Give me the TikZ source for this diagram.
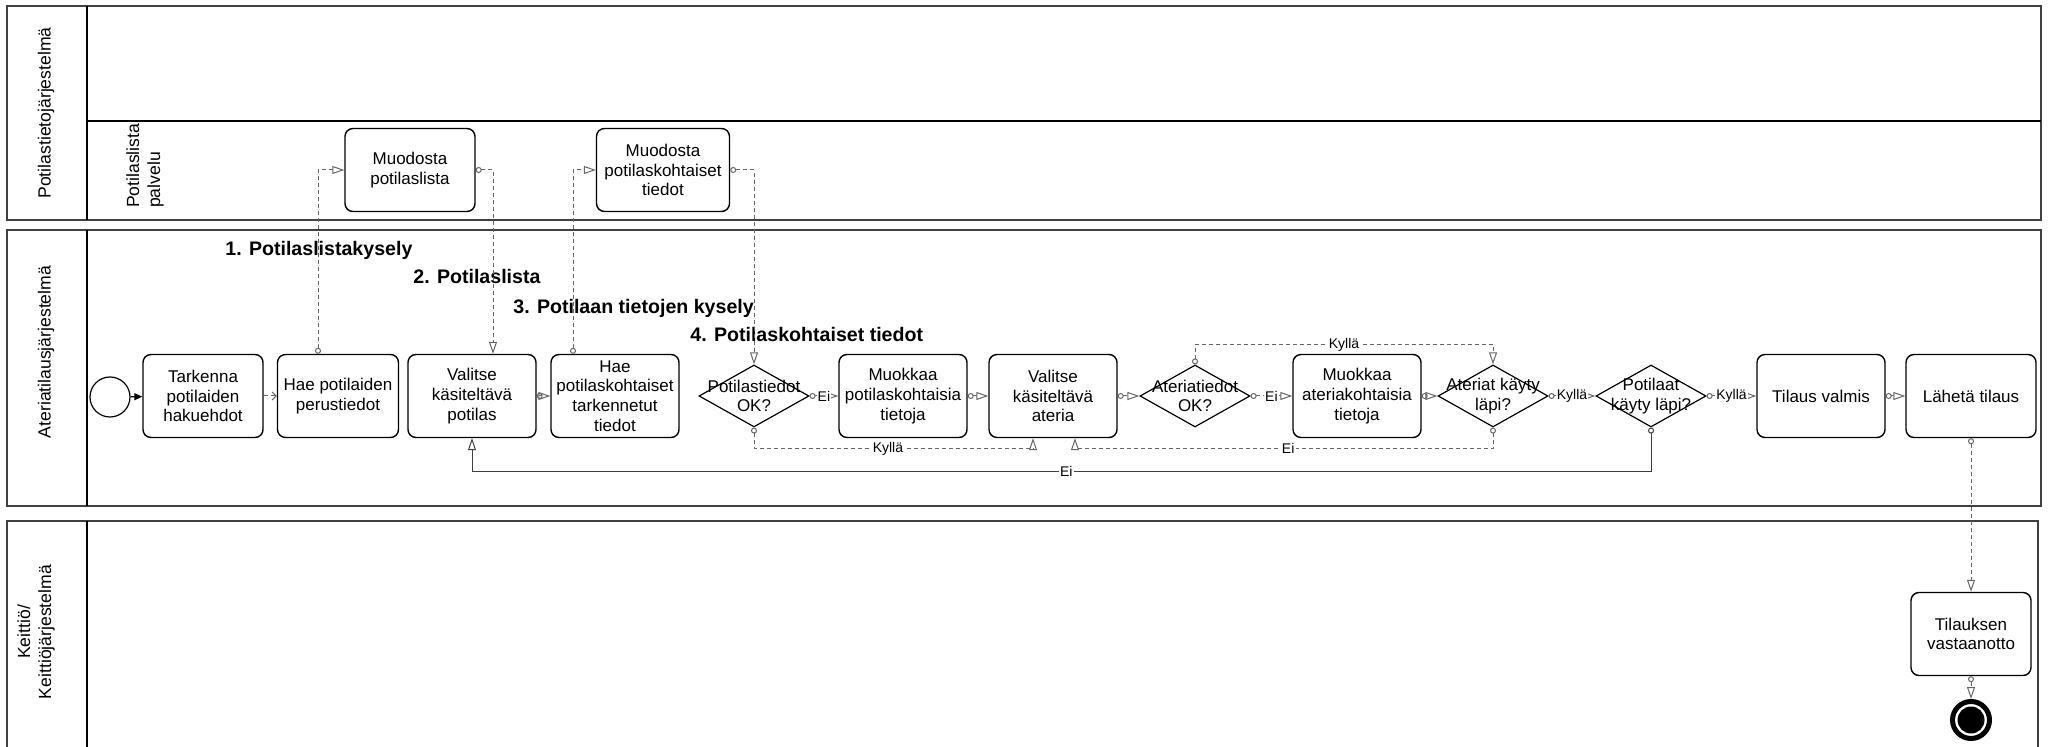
\documentclass[tikz,border=0pt]{standalone}
\usepackage{fontspec}
\setmainfont{Liberation Sans}
\usetikzlibrary{arrows.meta, shapes.geometric}

\begin{document}
\begin{tikzpicture}[x=0.5pt, y=-0.5pt, font=\fontsize{8.5}{9.9}\selectfont]
		\tikzset{
		    pool/.style= {draw=black!75, line width=1pt},
		    head/.style= {rotate=90, align=center, font=\fontsize{8.8}{10.5}\selectfont},
		    task/.style= {rectangle, rounded corners=4pt, draw, line width=0.7pt, minimum width=64pt, minimum height=41.5pt, align=center, inner sep=0.5pt},
		    gate/.style= {diamond, draw, line width=0.6pt, minimum width=55pt, minimum height=31pt, inner sep=0pt},
		    gtext/.style= {align=center, inner sep=0pt},
		    flow/.style= {draw=black!60, line width=0.5pt, dash pattern=on 2pt off 1.5pt, {Circle[open, length=3pt, width=3pt]}-{Triangle[open, length=6pt, width=4pt]}},
		    lab/.style= {fill=white, inner sep=0.6pt, font=\fontsize{7}{8}\selectfont},
		    msglab/.style= {anchor=west, inner sep=0pt, font=\fontsize{9.8}{11}\selectfont\bfseries},
		}
		\clip (0,0) rectangle (2049,747);
		
		% pools and lanes
		\draw[pool] (7,6) rectangle (2041,220);
		\draw[pool] (7,230) rectangle (2041,506);
		\draw[pool] (7,521) rectangle (2038,760);
		\draw[line width=0.6pt] (87,6) -- (87,220) (87,230) -- (87,506) (87,521) -- (87,760);
		\draw[line width=0.6pt] (87,121) -- (2041,121);
		\node[head] (h1) at (46,113) {Potilastietojärjestelmä};
		\node[head] (h2) at (46,352) {Ateriatilausjärjestelmä};
		\node[head] (h3) at (36,632) {Keittiö/\\Keittiöjärjestelmä};
		\node[head, align=left, anchor=west] (h4) at (145,215) {Potilaslista\\palvelu};
		
		\node[task, minimum width=65pt] (p1) at (410,170) {Muodosta\\potilaslista};
		\node[task, minimum width=66.5pt] (p2) at (663,170) {Muodosta\\potilaskohtaiset\\tiedot};
		
		\node[circle, draw, line width=0.6pt, minimum size=20pt, inner sep=0pt] (start) at (110,397) {};
		\node[task, minimum width=60pt] (t1) at (203,396) {Tarkenna\\potilaiden\\hakuehdot};
		\node[task, minimum width=60.5pt] (t2) at (338,396) {Hae potilaiden\\perustiedot};
		\node[task] (t3) at (472,396) {Valitse\\käsiteltävä\\potilas};
		\node[task] (t4) at (615,396) {Hae\\potilaskohtaiset\\tarkennetut\\tiedot};
		\node[gate, label={[gtext]center:{Potilastiedot\\OK?}}] (g1) at (754,396) {};
		\node[task] (t5) at (903,396) {Muokkaa\\potilaskohtaisia\\tietoja};
		\node[task] (t6) at (1053,396) {Valitse\\käsiteltävä\\ateria};
		\node[gate, label={[gtext]center:{Ateriatiedot\\OK?}}] (g2) at (1195,396) {};
		\node[task] (t7) at (1357,396) {Muokkaa\\ateriakohtaisia\\tietoja};
		\node[gate, label={[gtext]center:{Ateriat käyty\\läpi?}}] (g3) at (1493,396) {};
		\node[gate, label={[gtext]center:{Potilaat\\käyty läpi?}}] (g4) at (1651,396) {};
		\node[task] (t8) at (1821,396) {Tilaus valmis};
		\node[task, minimum width=65pt] (t9) at (1971,396) {Lähetä tilaus};
		
		\node[task, minimum width=60pt] (k1) at (1971,634) {Tilauksen\\vastaanotto};
		\node[circle, draw, line width=2.5pt, minimum size=18.5pt, inner sep=0pt] (end) at (1971,720) {};
		\fill (end) circle (6.75pt);
		
		\node[msglab] (m1) at (225,250) {1. Potilaslistakysely};
		\node[msglab] (m2) at (413,277) {2. Potilaslista};
		\node[msglab] (m3) at (513,308) {3. Potilaan tietojen kysely};
		\node[msglab] (m4) at (690,334) {4. Potilaskohtaiset tiedot};
		
		% flows
		\draw[-{Triangle[length=4pt, width=3.5pt]}, line width=0.6pt] (start) -- (t1);
		\draw[draw=black!60, line width=0.5pt, dash pattern=on 2pt off 1.5pt, -{Straight Barb[length=2pt, width=4pt]}] (t1) -- (t2);
		\draw[flow] ([xshift=-10pt]t2.north) |- (p1.west);
		\draw[flow] (p1.east) -| ([xshift=10.5pt]t3.north);
		\draw[flow] ([xshift=-21pt]t4.north) |- (p2.west);
		\draw[flow] (p2.east) -| (g1.north);
		\draw
		(t3) edge[flow] (t4)
		(g1) edge[flow] node[lab] {Ei} (t5)
		(t5) edge[flow] (t6)
		(t6) edge[flow] (g2)
		(g2) edge[flow] node[lab] {Ei} (t7)
		(t7) edge[flow] (g3)
		(g3) edge[flow] node[lab] {Kyllä} (g4)
		(g4) edge[flow] node[lab] {Kyllä} (t8)
		(t8) edge[flow] (t9)
		(t9) edge[flow] (k1)
		(k1) edge[flow] (end);
		\draw[flow] (g1.south) -- ++(0,21) -| ([xshift=-10pt]t6.south) node[lab, pos=0.24] {Kyllä};
		\draw[flow] (g2.north) -- ++(0,-20) -| (g3.north) node[lab, pos=0.25] {Kyllä};
		\draw[flow] (g3.south) -- ++(0,21) -| ([xshift=11pt]t6.south) node[lab, pos=0.245] {Ei};
		\draw[flow, solid, draw=black!75] (g4.south) -- ++(0,44) -| (t3.south) node[lab, pos=0.248] {Ei};
	\end{tikzpicture}
\end{document}
